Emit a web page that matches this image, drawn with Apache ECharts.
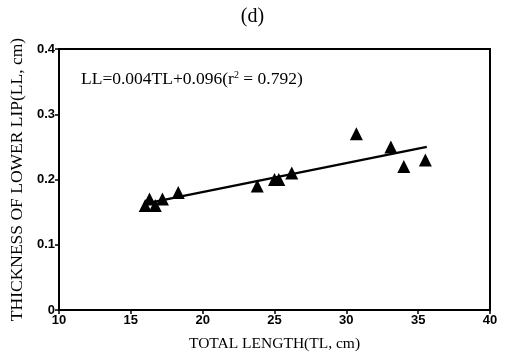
<!DOCTYPE html>
<html><head><meta charset="utf-8">
<script src="https://cdn.jsdelivr.net/npm/echarts@6/dist/echarts.min.js"></script>
<style>html,body{margin:0;padding:0;background:#fff}#c{width:505px;height:357px}</style>
</head><body><div id="c"></div>
<script>
var totalLength = [16.0, 16.3, 16.7, 17.2, 18.3, 23.8, 25.0, 25.3, 26.2, 30.7, 33.1, 34.0, 35.5];
var lowerLip    = [0.16, 0.17, 0.16, 0.17, 0.18, 0.19, 0.20, 0.20, 0.21, 0.27, 0.25, 0.22, 0.23];
var fitX = [16.0, 35.6];
var fitY = [0.163, 0.250];
var xTicks = [10, 15, 20, 25, 30, 35, 40];
var yTicks = [0, 0.1, 0.2, 0.3, 0.4];

var chart = echarts.init(document.getElementById('c'));
chart.setOption({
  animation: false,
  backgroundColor: '#fff',
  title: {
    text: '(d)', left: 'center', top: 2,
    textStyle: {fontFamily: 'Liberation Serif', fontSize: 20, fontWeight: 'normal', color: '#000'}
  },
  grid: {left: 58, right: 15, top: 49, bottom: 46, show: true, borderColor: '#000', borderWidth: 2},
  xAxis: {
    type: 'value', min: xTicks[0], max: xTicks[xTicks.length-1], interval: 5,
    name: 'TOTAL LENGTH(TL, cm)', nameLocation: 'middle', nameGap: 26,
    nameTextStyle: {fontFamily: 'Liberation Serif', fontSize: 15.5, color: '#000'},
    axisLine: {lineStyle: {color: '#000', width: 2}},
    axisTick: {show: true, length: 4, lineStyle: {color: '#000', width: 1.5}},
    axisLabel: {fontFamily: 'Liberation Sans', fontWeight: 'bold', fontSize: 13, color: '#000', margin: 4},
    splitLine: {show: false}
  },
  yAxis: {
    type: 'value', min: yTicks[0], max: yTicks[yTicks.length-1], interval: 0.1,
    name: 'THICKNESS OF LOWER LIP(LL, cm)', nameLocation: 'middle', nameGap: 33,
    nameTextStyle: {fontFamily: 'Liberation Serif', fontSize: 17.5, color: '#000'},
    axisLine: {lineStyle: {color: '#000', width: 2}},
    axisTick: {show: true, length: 4, lineStyle: {color: '#000', width: 1.5}},
    axisLabel: {fontFamily: 'Liberation Sans', fontWeight: 'bold', fontSize: 13, color: '#000', margin: 4,
      formatter: function(v){ return v === 0 ? '0' : v.toFixed(1); }},
    splitLine: {show: false}
  },
  graphic: [{
    type: 'text', left: 81, top: 70,
    style: {
      text: '{a|LL=0.004TL+0.096(r}{s|2}{a| = 0.792)}',
      rich: {
        a: {fontFamily: 'Liberation Serif', fontSize: 17.5, fill: '#000'},
        s: {fontFamily: 'Liberation Serif', fontSize: 10, fill: '#000', verticalAlign: 'top', padding: [0,0,8,0]}
      }
    }
  }],
  series: [
    {
      type: 'line', data: fitX.map(function(x,i){return [x, fitY[i]];}),
      symbol: 'none', lineStyle: {color: '#000', width: 2.5}, z: 2
    },
    {
      type: 'scatter', data: totalLength.map(function(x,i){return [x, lowerLip[i]];}),
      symbol: 'triangle', symbolSize: 13, itemStyle: {color: '#000', opacity: 1}, z: 3
    }
  ]
});
</script></body></html>
